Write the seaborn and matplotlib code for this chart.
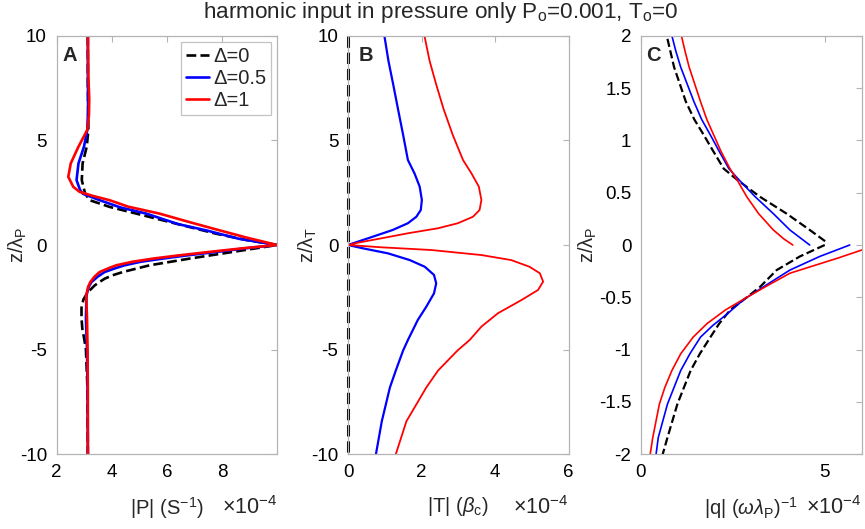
import matplotlib
matplotlib.use("Agg")
import matplotlib.pyplot as plt
import seaborn as sns

# ---------------- data ----------------
# Panel A : |P| (x1e-4) vs z/lambda_P
a_red_z = [10, 8, 7, 6.2, 5.5, 4.7, 3.9, 3.26, 2.78, 2.54, 2.35, 2.14, 1.83, 1.5, 1.1, 0.7, 0.35, 0,
           -0.15, -0.33, -0.5, -0.65, -0.8, -0.97, -1.1, -1.29, -1.5, -1.77, -2.0, -2.41, -3.5, -5, -7, -10]
a_red_v = [3.13, 3.15, 3.18, 3.17, 3.11, 2.79, 2.51, 2.42, 2.60, 2.83, 3.3, 3.92, 4.6, 5.73, 6.8, 7.91, 8.9, 10.0,
           8.8, 7.54, 6.4, 5.49, 4.75, 4.16, 3.9, 3.56, 3.38, 3.22, 3.14, 3.07, 3.10, 3.12, 3.13, 3.13]

a_blue_z = [10, 8, 6.5, 5.5, 4.7, 3.9, 3.1, 2.62, 2.45, 2.14, 1.8, 1.5, 1.0, 0.7, 0.3, 0,
            -0.15, -0.33, -0.5, -0.65, -0.8, -0.97, -1.1, -1.29, -1.5, -1.77, -2.0, -2.41, -3.5, -5, -7, -10]
a_blue_v = [3.13, 3.13, 3.14, 3.11, 2.99, 2.79, 2.72, 2.85, 2.95, 3.56, 4.3, 5.25, 6.4, 7.42, 8.6, 10.0,
            8.9, 7.8, 6.7, 5.84, 5.05, 4.46, 4.15, 3.74, 3.5, 3.26, 3.16, 3.08, 3.06, 3.10, 3.12, 3.13]

a_blk_z = [10, 8, 6.5, 5.5, 4.7, 3.9, 3.1, 2.46, 2.14, 1.82, 1.5, 1.02, 0.54, 0.24, 0,
           -0.33, -0.65, -0.97, -1.29, -1.45, -1.61, -1.77, -1.93, -2.1, -2.25, -2.6, -3, -3.5, -4, -4.5,
           -5, -7, -10]
a_blk_v = [3.13, 3.13, 3.14, 3.15, 3.09, 2.94, 2.91, 3.03, 3.20, 3.92, 4.89, 6.33, 7.78, 8.87, 10.0,
           8.39, 6.82, 5.37, 4.40, 4.02, 3.74, 3.55, 3.38, 3.25, 3.13, 2.97, 2.90, 2.90, 2.93, 3.0,
           3.06, 3.12, 3.13]

# Panel B : |T| (x1e-4) vs z/lambda_T
b_blue_z = [10, 8.8, 7.67, 6.5, 5.26, 4.06, 3.42, 2.79, 2.15, 1.67, 1.35, 1.04, 0.72, 0.40, 0.16, 0,
            -0.16, -0.40, -0.72, -1.04, -1.43, -1.83, -2.31, -2.95, -3.58, -4.54, -5.04, -6.0, -6.81,
            -8.42, -10]
b_blue_v = [0.99, 1.10, 1.23, 1.36, 1.50, 1.63, 1.81, 1.95, 2.01, 1.98, 1.86, 1.63, 1.22, 0.68, 0.27, 0,
            0.41, 1.09, 1.68, 2.09, 2.34, 2.40, 2.34, 2.13, 1.90, 1.63, 1.50, 1.30, 1.14,
            0.92, 0.76]

b_red_z = [10, 8.8, 7.67, 6.5, 5.26, 4.06, 3.42, 2.79, 2.15, 1.67, 1.35, 1.04, 0.80, 0.56, 0.32, 0.11, 0,
           -0.11, -0.24, -0.48, -0.72, -1.04, -1.35, -1.75, -2.15, -2.63, -3.26, -3.90, -4.54, -5.04,
           -6.0, -6.81, -8.42, -10]
b_red_v = [2.08, 2.22, 2.40, 2.60, 2.85, 3.13, 3.36, 3.56, 3.63, 3.58, 3.40, 2.99, 2.45, 1.63, 0.91, 0.27, 0,
           0.91, 2.27, 3.63, 4.44, 4.94, 5.22, 5.31, 5.17, 4.72, 4.08, 3.63, 3.31, 2.98,
           2.45, 2.13, 1.59, 1.30]

b_blk_z = [10, -10]
b_blk_v = [0, 0]

# Panel C : |q| (omega lambda_P)^-1 (x1e-4) vs z/lambda_P
c_blk_up_z = [1.97, 1.85, 1.70, 1.37, 1.2, 1.05, 0.9, 0.73, 0.625, 0.46, 0.30, 0.144, 0.016]
c_blk_up_v = [0.72, 0.80, 0.90, 1.22, 1.45, 1.71, 1.96, 2.25, 2.61, 3.24, 3.96, 4.59, 5.09]
c_blk_lo_z = [0.0, -0.11, -0.24, -0.40, -0.5, -0.62, -0.75, -0.88, -1.04, -1.20, -1.52, -1.84, -2.0]
c_blk_lo_v = [5.0, 4.32, 3.69, 3.24, 2.88, 2.43, 2.13, 1.89, 1.60, 1.35, 0.99, 0.72, 0.59]

c_blue_up_z = [2.0, 1.85, 1.70, 1.37, 1.2, 1.05, 0.9, 0.73, 0.625, 0.46, 0.30, 0.144, 0.0]
c_blue_up_v = [0.84, 0.95, 1.08, 1.44, 1.65, 1.89, 2.12, 2.39, 2.66, 3.11, 3.60, 4.05, 4.59]
c_blue_lo_z = [0.0, -0.11, -0.24, -0.40, -0.52, -0.66, -0.77, -0.88, -1.04, -1.20, -1.52, -1.84, -2.0]
c_blue_lo_v = [5.68, 4.86, 4.05, 3.33, 2.80, 2.34, 1.95, 1.62, 1.33, 1.08, 0.72, 0.47, 0.41]

c_red_up_z = [2.0, 1.85, 1.70, 1.37, 1.2, 1.05, 0.9, 0.73, 0.625, 0.46, 0.30, 0.144, 0.06, 0.0]
c_red_up_v = [1.10, 1.20, 1.31, 1.62, 1.79, 1.98, 2.17, 2.42, 2.61, 2.88, 3.2, 3.6, 3.88, 4.13]
c_red_lo_z = [0.0, -0.05, -0.12, -0.18, -0.27, -0.40, -0.5, -0.62, -0.75, -0.88, -1.04, -1.20, -1.36,
              -1.52, -1.84, -2.0]
c_red_lo_v = [6.4, 5.99, 5.4, 4.86, 4.05, 3.38, 2.88, 2.30, 1.80, 1.42, 1.08, 0.84, 0.65,
              0.50, 0.32, 0.25]

legend_labels = ["Δ=0", "Δ=0.5", "Δ=1"]
title_text = "harmonic input in pressure only P$_\\mathrm{o}$=0.001, T$_\\mathrm{o}$=0"

# ---------------- style ----------------
sns.set_style("white")
plt.rcParams['font.family'] = ['Liberation Sans', 'DejaVu Sans']
plt.rcParams['mathtext.fontset'] = 'custom'
plt.rcParams['mathtext.rm'] = 'Liberation Sans'
plt.rcParams['mathtext.it'] = 'Liberation Sans:italic'
plt.rcParams['mathtext.bf'] = 'Liberation Sans:bold'
plt.rcParams['axes.unicode_minus'] = False

FS_TICK = 13.5
FS_LAB = 14.5
FS_LEG = 14.5
FS_EXP = 15.5
FS_TITLE = 16.2
SPINE = '#b4b4b4'
RED = '#ff0000'
BLUE = '#0000ff'

fig = plt.figure(figsize=(8.65, 5.29), dpi=100)
W, H = 865.0, 529.0
bottom_px, top_px = 454.3, 35.7
ax_w = 220.5
lefts = [56.7, 348.0, 641.0]
axes = [fig.add_axes([l / W, (H - bottom_px) / H, ax_w / W, (bottom_px - top_px) / H]) for l in lefts]


def style(ax):
    for s in ax.spines.values():
        s.set_color(SPINE)
        s.set_linewidth(0.9)
        s.set_visible(True)
    ax.tick_params(direction='in', length=4, width=0.8, color=SPINE,
                   top=True, right=True, labelsize=FS_TICK, labelcolor='black', pad=7)
    ax.grid(False)


def line(ax, v, z, color, lw, ls='-', label=None, clip=True):
    sns.lineplot(x=v, y=z, sort=False, estimator=None, color=color, lw=lw,
                 linestyle=ls, ax=ax, label=label, legend=False, clip_on=clip)


# Panel A
ax = axes[0]
line(ax, a_blk_v, a_blk_z, 'black', 1.9, '--', legend_labels[0])
line(ax, a_blue_v, a_blue_z, BLUE, 1.9, '-', legend_labels[1])
line(ax, a_red_v, a_red_z, RED, 1.9, '-', legend_labels[2])
ax.set_xlim(2, 10)
ax.set_ylim(-10, 10)
ax.set_xticks([2, 4, 6, 8])
ax.set_yticks([-10, -5, 0, 5, 10])
ax.set_ylabel("z/λ$_\\mathrm{P}$", fontsize=FS_LAB)
ax.set_xlabel("|P| (S$^{-1}$)", fontsize=FS_LAB, labelpad=10)
leg = ax.legend(loc='upper right', fontsize=FS_LEG, frameon=True, fancybox=False,
                handlelength=1.15, handletextpad=0.2, labelspacing=0.15,
                borderpad=0.25, borderaxespad=0.3)
leg.get_frame().set_edgecolor(SPINE)
leg.get_frame().set_linewidth(0.9)
ax.text(0.025, 0.975, 'A', transform=ax.transAxes, fontsize=FS_LAB, fontweight='bold', va='top', ha='left')

# Panel B
ax = axes[1]
line(ax, b_blk_v, b_blk_z, 'black', 2.2, '--', clip=False)
line(ax, b_blue_v, b_blue_z, BLUE, 1.6)
line(ax, b_red_v, b_red_z, RED, 1.3)
ax.set_xlim(0, 6)
ax.set_ylim(-10, 10)
ax.set_xticks([0, 2, 4, 6])
ax.set_yticks([-10, -5, 0, 5, 10])
ax.set_ylabel("z/λ$_\\mathrm{T}$", fontsize=FS_LAB)
ax.set_xlabel("|T| ($\\beta_\\mathrm{c}$)", fontsize=FS_LAB, labelpad=10)
ax.text(0.05, 0.975, 'B', transform=ax.transAxes, fontsize=FS_LAB, fontweight='bold', va='top', ha='left')

# Panel C
ax = axes[2]
line(ax, c_blk_up_v, c_blk_up_z, 'black', 1.6, '--')
line(ax, c_blk_lo_v, c_blk_lo_z, 'black', 1.6, '--')
line(ax, c_blue_up_v, c_blue_up_z, BLUE, 1.2)
line(ax, c_blue_lo_v, c_blue_lo_z, BLUE, 1.2)
line(ax, c_red_up_v, c_red_up_z, RED, 1.2)
line(ax, c_red_lo_v, c_red_lo_z, RED, 1.2)
ax.set_xlim(0, 6)
ax.set_ylim(-2, 2)
ax.set_xticks([0, 5])
cticks = [-2, -1.5, -1, -0.5, 0, 0.5, 1, 1.5, 2]
ax.set_yticks(cticks)
ax.set_yticklabels([f"{t:g}" for t in cticks])
ax.set_ylabel("z/λ$_\\mathrm{P}$", fontsize=FS_LAB)
ax.set_xlabel("|q| ($\\omega\\lambda_\\mathrm{P}$)$^{-1}$", fontsize=FS_LAB, labelpad=10)
ax.text(0.025, 0.975, 'C', transform=ax.transAxes, fontsize=FS_LAB, fontweight='bold', va='top', ha='left')

for ax in axes:
    style(ax)

axes[0].yaxis.set_label_coords(-0.125, 0.5)
axes[1].yaxis.set_label_coords(-0.13, 0.5)
axes[2].yaxis.set_label_coords(-0.19, 0.5)

# MATLAB-style exponent labels
for ax in axes:
    ax.annotate("×10$^{-4}$", xy=(1.0, 0.0), xycoords='axes fraction',
                xytext=(0, -60), textcoords='offset pixels',
                ha='right', va='baseline', fontsize=FS_EXP)

fig.text(0.51, 0.976, title_text, ha='center', va='center', fontsize=FS_TITLE)

fig.savefig("out.png", dpi=100)
